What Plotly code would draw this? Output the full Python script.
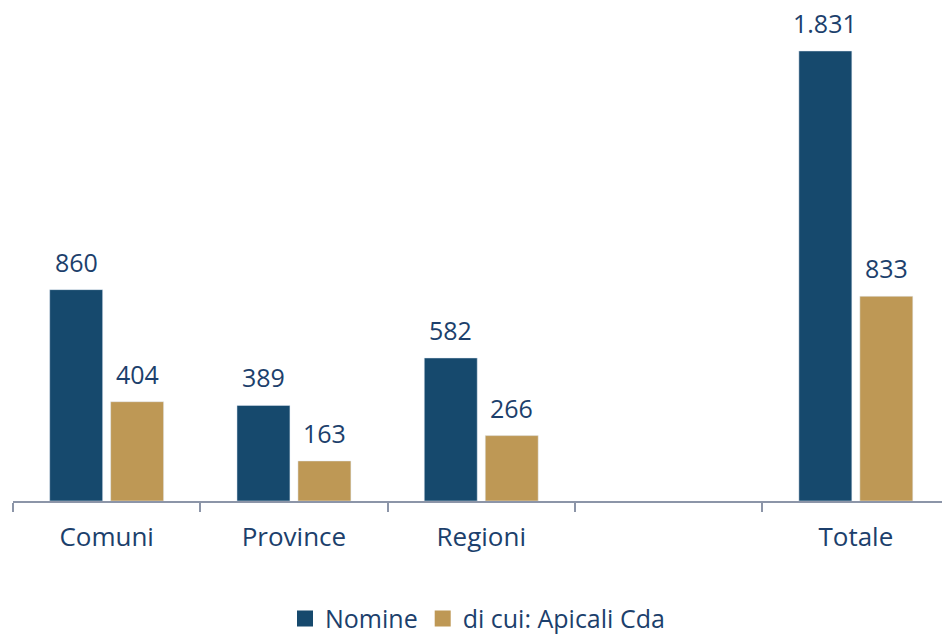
import plotly.graph_objects as go

categories = ["Comuni", "Province", "Regioni", " ", "Totale"]
nomine = [860, 389, 582, None, 1831]
apicali = [404, 163, 266, None, 833]
series_names = ["Nomine", "di cui: Apicali Cda"]

C_BLUE = "#16496d"
C_TAN = "#be9855"
C_TEXT = "#1c3f6c"
FONT = "Open Sans"

def fmt(v):
    return f"{v:,}".replace(",", ".")

fig = go.Figure()
for name, vals, col in ((series_names[0], nomine, C_BLUE), (series_names[1], apicali, C_TAN)):
    fig.add_trace(go.Bar(x=categories, y=vals, name=name, marker_color=col, showlegend=False))
for name, col in ((series_names[0], C_BLUE), (series_names[1], C_TAN)):
    fig.add_trace(go.Scatter(x=[None], y=[None], mode="markers", name=name,
                             marker=dict(symbol="square", size=16, color=col)))

for vals, shift in ((nomine, -30.5), (apicali, 30.5)):
    for c, v in zip(categories, vals):
        if v is None:
            continue
        fig.add_annotation(x=c, y=v, text=fmt(v), showarrow=False, yanchor="bottom",
                           yshift=9, xshift=shift, font=dict(family=FONT, size=25, color=C_TEXT))

fig.update_layout(
    width=942, height=634,
    margin=dict(l=13, r=0, t=20, b=133, autoexpand=False),
    plot_bgcolor="white", paper_bgcolor="white",
    barmode="group", bargap=0.349, bargroupgap=0.131,
    font=dict(family=FONT, size=26, color=C_TEXT),
    showlegend=True,
    legend=dict(orientation="h", x=0.5, xanchor="center", y=-0.245, yanchor="middle",
                font=dict(family=FONT, size=25, color=C_TEXT),
                traceorder="normal"),
)
fig.update_xaxes(type="category", range=[-0.5, 4.46], showline=True, linecolor="#8c95a8",
                 linewidth=1.5, ticks="outside", tickson="boundaries", ticklen=9,
                 tickcolor="#8c95a8", tickwidth=1.5, showgrid=False, automargin=False,
                 ticklabelstandoff=12, tickfont=dict(family=FONT, size=26, color=C_TEXT))
fig.update_yaxes(range=[0, 1957], visible=False, showgrid=False, zeroline=False, automargin=False)

fig.write_html("out.html", config={"displayModeBar": False},
               post_script="document.body.style.margin='0px';")
